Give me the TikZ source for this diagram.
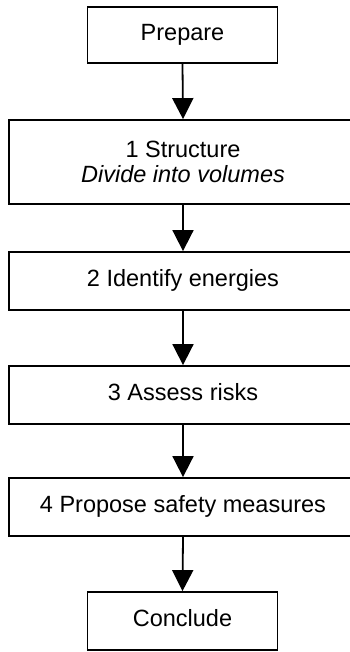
\documentclass[tikz,border=0pt]{standalone}
\usepackage{fontspec}
\setmainfont{Liberation Sans}
\usetikzlibrary{arrows.meta}
\begin{document}
\begin{tikzpicture}[x=1pt,y=1pt,
  stagebox/.style={draw, line width=1.8pt, minimum height=58pt, inner sep=0pt,
    font=\fontsize{23.5}{25.5}\selectfont, align=center},
  oneline/.style={text height=17pt, text depth=5pt},
  wide/.style={stagebox, minimum width=348pt},
  narrow/.style={stagebox, oneline, minimum width=190pt},
  flow/.style={line width=1.8pt, -{Triangle[width=21pt,length=21pt]}}]
\useasboundingbox (0,0) rectangle (349,652);
% stages of the procedure
\node[narrow, minimum height=56pt] (prep) at (182.5,617) {Prepare};
\node[wide, minimum height=84pt] (s1) at (183,490) {1 Structure\\\textit{Divide into volumes}};
\node[wide, oneline] (s2) at (183,371) {2 Identify energies};
\node[wide, oneline] (s3) at (183,257) {3 Assess risks};
\node[wide, oneline] (s4) at (183,145) {4 Propose safety measures};
\node[narrow] (conc) at (182.5,31) {Conclude};
% connectors
\draw[flow] (prep.south) -- (s1.north);
\draw[flow] (s1.south) -- (s2.north);
\draw[flow] (s2.south) -- (s3.north);
\draw[flow] (s3.south) -- (s4.north);
\draw[flow] (s4.south) -- (conc.north);
\end{tikzpicture}
\end{document}
